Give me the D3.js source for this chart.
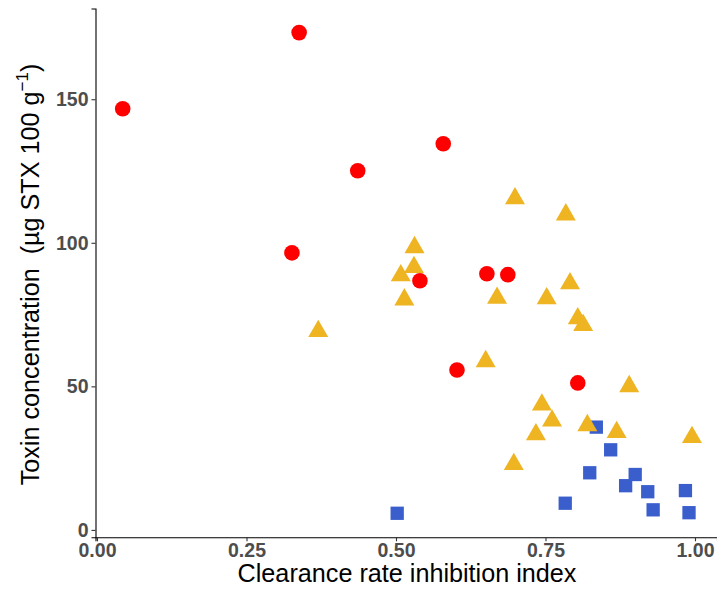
<!DOCTYPE html>
<html><head><meta charset="utf-8">
<script src="https://cdn.jsdelivr.net/npm/d3@7/dist/d3.min.js"></script>
<style>body{margin:0;background:#fff}svg{display:block}</style>
</head><body>
<script>
// Data: clearance rate inhibition index (x) vs toxin concentration (y)
const redX = [0.043,0.338,0.436,0.579,0.326,0.540,0.652,0.687,0.602,0.804];
const redY = [146.7,173.2,125.1,134.5,96.5,86.8,89.2,88.9,55.7,51.2];

const goldX = [0.370,0.531,0.530,0.508,0.514,0.669,0.650,0.699,0.784,0.791,0.752,0.804,0.813,0.890,0.744,0.761,0.734,0.820,0.869,0.995,0.697];
const goldY = [69.2,98.4,91.5,88.6,80.2,80.8,58.7,115.4,109.8,85.8,80.6,73.6,71.3,50.0,43.6,38.0,33.2,36.4,34.0,32.3,22.9];

const blueX = [0.835,0.859,0.824,0.900,0.884,0.921,0.984,0.930,0.990,0.783,0.502];
const blueY = [35.8,27.9,19.9,19.3,15.4,13.3,13.7,7.0,6.0,9.3,5.8];

const xTicks = [0,0.25,0.5,0.75,1];
const xTickLabels = ["0.00","0.25","0.50","0.75","1.00"];
const yTicks = [0,50,100,150];

const W = 717, H = 590;
const svg = d3.select("body").append("svg").attr("width",W).attr("height",H);

const x = d3.scaleLinear().domain([-0.0025,1.0368]).range([95.5,717]);
const y = d3.scaleLinear().domain([-2.57,181.6]).range([537.3,8.5]);

// points: squares, triangles, circles
const g = svg.append("g");
const sq = 13.3;
g.selectAll("rect.b").data(blueX.map((v,i)=>[v,blueY[i]])).enter().append("rect")
  .attr("x",d=>x(d[0])-sq/2).attr("y",d=>y(d[1])-sq/2)
  .attr("width",sq).attr("height",sq).attr("fill","#3A5FCD");
const tri = d3.symbol().type(d3.symbolTriangle).size(173);
g.selectAll("path.t").data(goldX.map((v,i)=>[v,goldY[i]])).enter().append("path")
  .attr("d",tri).attr("transform",d=>`translate(${x(d[0])},${y(d[1])})`)
  .attr("fill","#EEB422");
g.selectAll("circle.r").data(redX.map((v,i)=>[v,redY[i]])).enter().append("circle")
  .attr("cx",d=>x(d[0])).attr("cy",d=>y(d[1])).attr("r",7.8).attr("fill","#FF0000");

// axes
const xa = svg.append("g").attr("transform","translate(0,537.3)")
  .call(d3.axisBottom(x).tickValues(xTicks).tickFormat((d,i)=>xTickLabels[i]).tickSizeOuter(0).tickSize(4).tickPadding(2));
const ya = svg.append("g").attr("transform","translate(95.5,0)")
  .call(d3.axisLeft(y).tickValues(yTicks).tickSizeOuter(0).tickSize(4).tickPadding(3));
[xa,ya].forEach(a=>{
  a.select(".domain").attr("stroke","#000").attr("stroke-width",1.1);
  a.selectAll(".tick line").attr("stroke","#333").attr("stroke-width",1.1);
  a.selectAll(".tick text").attr("fill","#4D4D4D").attr("font-family","Liberation Sans, Arial, sans-serif")
   .attr("font-weight","bold").attr("font-size","19.5px");
});

// titles
svg.append("text").attr("x",407).attr("y",581.5).attr("text-anchor","middle")
  .attr("font-family","Liberation Sans, Arial, sans-serif").attr("font-size","25.2px").attr("fill","#000")
  .text("Clearance rate inhibition index");

const yt = svg.append("text").attr("transform","translate(38.5,274.5) rotate(-90)").attr("text-anchor","middle")
  .attr("font-family","Liberation Sans, Arial, sans-serif").attr("font-size","25.2px").attr("fill","#000")
  .style("white-space","pre");
yt.append("tspan").text("Toxin concentration  (µg STX 100 g");
yt.append("tspan").attr("dy",-11).attr("font-size","17px").text("−1");
yt.append("tspan").attr("dy",11).text(")");
</script>
</body></html>
